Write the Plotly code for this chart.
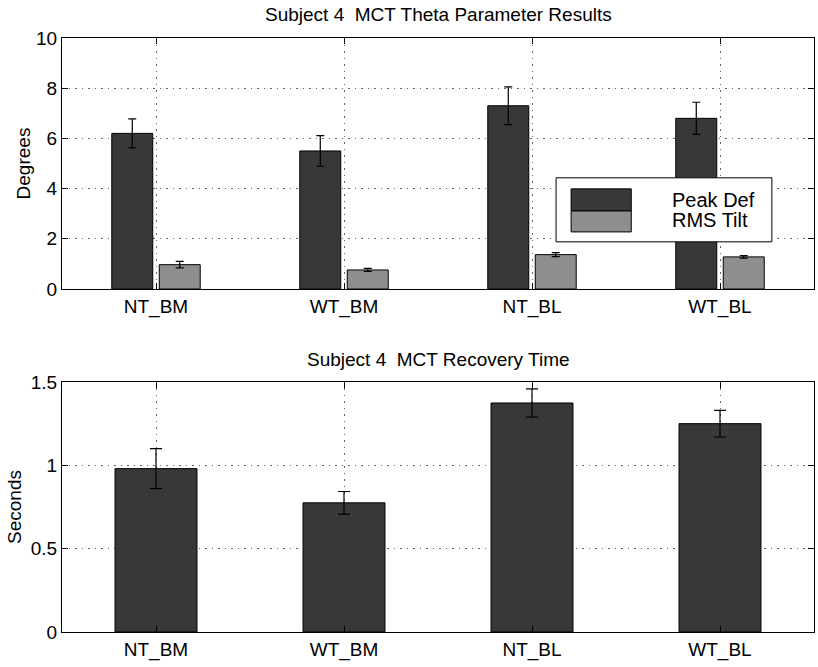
import plotly.graph_objects as go

categories = ["NT_BM", "WT_BM", "NT_BL", "WT_BL"]

peak_def = [6.2, 5.5, 7.3, 6.8]
peak_def_err = [0.58, 0.61, 0.75, 0.64]
rms_tilt = [0.97, 0.76, 1.37, 1.28]
rms_tilt_err = [0.13, 0.06, 0.08, 0.05]

recovery = [0.98, 0.775, 1.374, 1.25]
recovery_err = [0.12, 0.068, 0.085, 0.08]

top_title = "Subject 4  MCT Theta Parameter Results"
bottom_title = "Subject 4  MCT Recovery Time"

FONT = "Liberation Sans, Arial, Helvetica, sans-serif"
DARK = "#383838"
LIGHT = "#8e8e8e"

fig = go.Figure()

fig.add_trace(go.Bar(x=categories, y=peak_def, name="Peak Def",
                     marker=dict(color=DARK, line=dict(color="black", width=1)),
                     error_y=dict(type="data", array=peak_def_err, color="black", thickness=1.2, width=4),
                     xaxis="x", yaxis="y", showlegend=False))
fig.add_trace(go.Bar(x=categories, y=rms_tilt, name="RMS Tilt",
                     marker=dict(color=LIGHT, line=dict(color="black", width=1)),
                     error_y=dict(type="data", array=rms_tilt_err, color="black", thickness=1.2, width=4),
                     xaxis="x", yaxis="y", showlegend=False))
fig.add_trace(go.Bar(x=categories, y=recovery, name="Recovery",
                     marker=dict(color=DARK, line=dict(color="black", width=1)),
                     error_y=dict(type="data", array=recovery_err, color="black", thickness=1.2, width=6),
                     xaxis="x2", yaxis="y2", showlegend=False))

axis_common = dict(
    showline=True, linecolor="black", linewidth=1, mirror="ticks",
    ticks="inside", ticklen=6, tickcolor="black",
    showgrid=True, gridcolor="#666666", griddash="1.5px,5px", gridwidth=1.2,
    zeroline=False, tickfont=dict(family=FONT, size=19, color="black"),
)

fig.update_layout(
    width=818, height=667,
    margin=dict(l=62, r=4, t=38, b=35),
    paper_bgcolor="white", plot_bgcolor="white",
    barmode="group", bargap=0.495, bargroupgap=0.137,
    font=dict(family=FONT, size=19, color="black"),
    xaxis=dict(domain=[0, 1], anchor="y", type="category", range=[-0.5, 3.5], **axis_common),
    yaxis=dict(domain=[0.5774, 1.0], anchor="x", range=[0, 10], dtick=2,
               title=dict(text="Degrees", font=dict(family=FONT, size=19), standoff=0), **axis_common),
    xaxis2=dict(domain=[0, 1], anchor="y2", type="category", range=[-0.5, 3.5], **axis_common),
    yaxis2=dict(domain=[0, 0.4209], anchor="x2", range=[0, 1.5], tickvals=[0, 0.5, 1, 1.5],
                ticktext=["0", "0.5", "1", "1.5"],
                title=dict(text="Seconds", font=dict(family=FONT, size=19), standoff=4), **axis_common),
    showlegend=False,
)

# subplot titles
fig.add_annotation(text=top_title, xref="x domain", yref="y domain", x=0.5, y=1,
                   xanchor="center", yanchor="bottom", yshift=11, showarrow=False,
                   font=dict(family=FONT, size=19, color="black"))
fig.add_annotation(text=bottom_title, xref="x2 domain", yref="y2 domain", x=0.5, y=1,
                   xanchor="center", yanchor="bottom", yshift=10, showarrow=False,
                   font=dict(family=FONT, size=19, color="black"))

# legend box drawn in the top axes
fig.add_shape(type="rect", xref="x domain", yref="y domain", x0=0.657, x1=0.944, y0=0.188, y1=0.443,
              fillcolor="white", line=dict(color="black", width=1), layer="above")
fig.add_shape(type="rect", xref="x domain", yref="y domain", x0=0.677, x1=0.757, y0=0.311, y1=0.399,
              fillcolor=DARK, line=dict(color="black", width=1), layer="above")
fig.add_shape(type="rect", xref="x domain", yref="y domain", x0=0.677, x1=0.757, y0=0.2275, y1=0.311,
              fillcolor=LIGHT, line=dict(color="black", width=1), layer="above")
fig.add_annotation(text="Peak Def", xref="x domain", yref="y domain", x=0.8085, y=0.355,
                   xanchor="left", yanchor="middle", showarrow=False,
                   font=dict(family=FONT, size=20, color="black"))
fig.add_annotation(text="RMS Tilt", xref="x domain", yref="y domain", x=0.8085, y=0.275,
                   xanchor="left", yanchor="middle", showarrow=False,
                   font=dict(family=FONT, size=20, color="black"))

fig.write_html("out.html")
